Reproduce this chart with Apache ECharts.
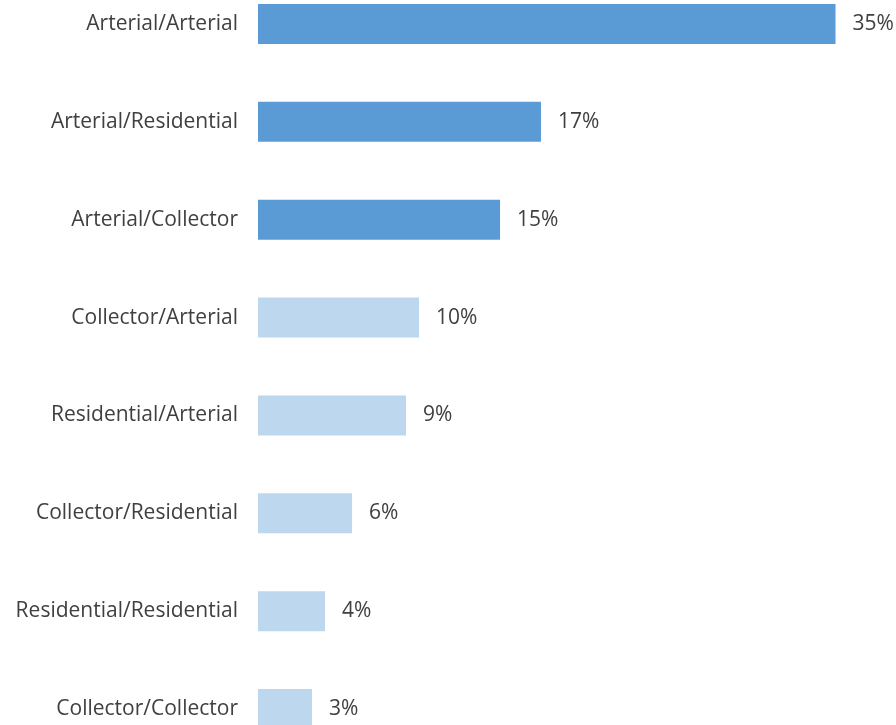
<!DOCTYPE html>
<html><head><meta charset="utf-8">
<script src="https://cdn.jsdelivr.net/npm/echarts@6/dist/echarts.min.js"></script>
<style>html,body{margin:0;padding:0;background:#fff;overflow:hidden}#c{position:absolute;left:0;top:-25px;width:896px;height:783px}</style>
</head><body><div id="c"></div>
<script>
const categories = ["Arterial/Arterial","Arterial/Residential","Arterial/Collector","Collector/Arterial","Residential/Arterial","Collector/Residential","Residential/Residential","Collector/Collector"];
const values = [35.0, 17.15, 14.67, 9.76, 8.97, 5.7, 4.06, 3.27];
const highlight = [true, true, true, false, false, false, false, false];
const darkColor = "#5B9BD5", lightColor = "#BDD7EE";
const chart = echarts.init(document.getElementById('c'), null, {renderer:'canvas'});
chart.setOption({
  animation:false,
  grid:{left:258, top:0, bottom:0, width:627, containLabel:false},
  xAxis:{type:'value', min:0, max:38, show:false},
  yAxis:{type:'category', data:categories, inverse:true,
    axisLine:{show:false}, axisTick:{show:false},
    axisLabel:{margin:20, color:'#404040', fontFamily:'Open Sans', fontSize:21}},
  series:[{type:'bar', barWidth:40,
    data: values.map((v,i)=>({value:v, itemStyle:{color: highlight[i]?darkColor:lightColor}})),
    label:{show:true, position:'right', distance:17, color:'#404040', fontFamily:'Open Sans', fontSize:21,
      formatter:p=>Math.round(p.value)+'%'}}]
});
</script></body></html>
